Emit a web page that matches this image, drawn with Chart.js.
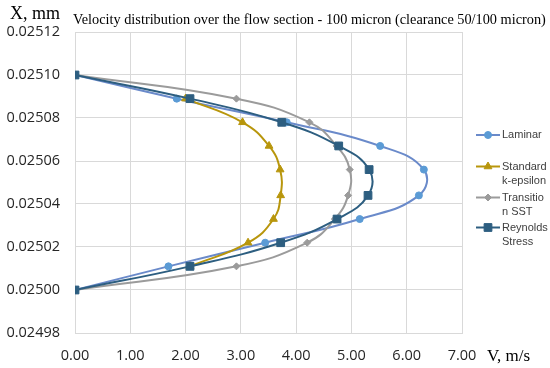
<!DOCTYPE html>
<html>
<head>
<meta charset="utf-8">
<script src="https://cdn.jsdelivr.net/npm/chart.js@4.4.1/dist/chart.umd.min.js"></script>
<style>
  html, body { margin: 0; padding: 0; background: #fff; }
</style>
</head>
<body>
<canvas id="velocityChart" width="550" height="368"></canvas>
<script>
// positions across the gap, X (mm), top to bottom
const positions = [0.0251, 0.025089, 0.025078, 0.025067, 0.025056, 0.025044, 0.025033, 0.025022, 0.025011, 0.025];

// velocity V (m/s) at each position
const laminar = [0, 1.84, 3.83, 5.52, 6.31, 6.22, 5.15, 3.44, 1.69, 0];
const kEpsilon = [null, 2.0, 3.03, 3.51, 3.71, 3.72, 3.59, 3.13, 2.08, null];
const transitionSST = [0, 2.92, 4.24, 4.73, 4.97, 4.94, 4.7, 4.2, 2.92, 0];
const reynoldsStress = [0, 2.08, 3.74, 4.77, 5.32, 5.3, 4.74, 3.72, 2.08, 0];

const xTicks = [0, 1, 2, 3, 4, 5, 6, 7];
const yTicks = [0.02498, 0.025, 0.02502, 0.02504, 0.02506, 0.02508, 0.0251, 0.02512];

const chartTitle = "Velocity distribution over the flow section - 100 micron (clearance 50/100 micron)";

function toPoints(values) {
  return values
    .map((v, i) => (v === null ? null : { x: v, y: positions[i] }))
    .filter((p) => p !== null);
}

const series = [
  { label: ["Laminar"], values: laminar, color: "#6A8ACA", marker: "#5B9BD5", style: "circle", radius: 3.5, order: 4, legendY: 135 },
  { label: ["Standard", "k-epsilon"], values: kEpsilon, color: "#B8960C", marker: "#B8960C", style: "triangle", radius: 4.5, order: 3, legendY: 166.5 },
  { label: ["Transitio", "n SST"], values: transitionSST, color: "#9B9B9B", marker: "#9B9B9B", style: "rectRot", radius: 3.5, order: 2, legendY: 197.5 },
  { label: ["Reynolds", "Stress"], values: reynoldsStress, color: "#2D5E80", marker: "#2D5E80", style: "rect", radius: 5.5, order: 1, legendY: 227.5 },
];

const datasets = series.map((s) => ({
  label: s.label.join(""),
  data: toPoints(s.values),
  showLine: true,
  tension: 0.45,
  borderColor: s.color,
  borderWidth: 2,
  pointStyle: s.style,
  pointRadius: s.radius,
  pointBackgroundColor: s.marker,
  pointBorderColor: s.marker,
  pointBorderWidth: 1,
  order: s.order,
}));

const decorations = {
  id: "decorations",
  afterDraw(chart) {
    const ctx = chart.ctx;
    ctx.save();
    ctx.fillStyle = "#000";
    ctx.textBaseline = "alphabetic";
    ctx.textAlign = "left";
    ctx.font = "18px 'Liberation Serif'";
    ctx.fillText("X, mm", 10, 19);
    ctx.font = "14.3px 'Liberation Serif'";
    ctx.fillText(chartTitle, 73, 24);
    ctx.font = "17px 'Liberation Serif'";
    ctx.fillText("V, m/s", 487, 361);

    // legend
    ctx.font = "11px 'Liberation Sans'";
    ctx.textBaseline = "middle";
    series.forEach((s) => {
      ctx.strokeStyle = s.color;
      ctx.lineWidth = 2;
      ctx.beginPath();
      ctx.moveTo(476, s.legendY);
      ctx.lineTo(500, s.legendY);
      ctx.stroke();
      ctx.fillStyle = s.marker;
      ctx.strokeStyle = s.marker;
      ctx.lineWidth = 1;
      Chart.helpers.drawPoint(ctx, { pointStyle: s.style, radius: s.radius, rotation: 0, borderWidth: 1 }, 488, s.legendY);
      ctx.fillStyle = "#404040";
      s.label.forEach((line, i) => {
        ctx.fillText(line, 502, s.legendY + i * 14.5);
      });
    });
    ctx.restore();
  },
};

const gridColor = "#D9D9D9";
const tickFont = { family: "'Open Sans'", size: 14.5 };

new Chart(document.getElementById("velocityChart"), {
  type: "scatter",
  data: { datasets },
  options: {
    responsive: false,
    animation: false,
    devicePixelRatio: 1,
    layout: { padding: { top: 32, right: 88, left: 0, bottom: 0 } },
    plugins: {
      legend: { display: false },
      tooltip: { enabled: false },
    },
    scales: {
      x: {
        type: "linear",
        min: 0,
        max: 7,
        afterBuildTicks: (axis) => {
          axis.ticks = xTicks.map((v) => ({ value: v }));
        },
        afterFit: (axis) => {
          axis.height = 35;
        },
        ticks: {
          callback: (v) => Number(v).toFixed(2),
          font: tickFont,
          color: "#262626",
          padding: 14,
          maxRotation: 0,
        },
        grid: { color: gridColor, drawTicks: false, tickLength: 0 },
        border: { color: gridColor },
      },
      y: {
        type: "linear",
        min: 0.02498,
        max: 0.02512,
        afterBuildTicks: (axis) => {
          axis.ticks = yTicks.map((v) => ({ value: v }));
        },
        afterFit: (axis) => {
          axis.width = 75;
        },
        ticks: {
          callback: (v) => Number(v).toFixed(5),
          font: tickFont,
          color: "#262626",
          padding: 15,
        },
        grid: { color: gridColor, drawTicks: false, tickLength: 0 },
        border: { color: gridColor },
      },
    },
  },
  plugins: [decorations],
});
</script>
</body>
</html>
